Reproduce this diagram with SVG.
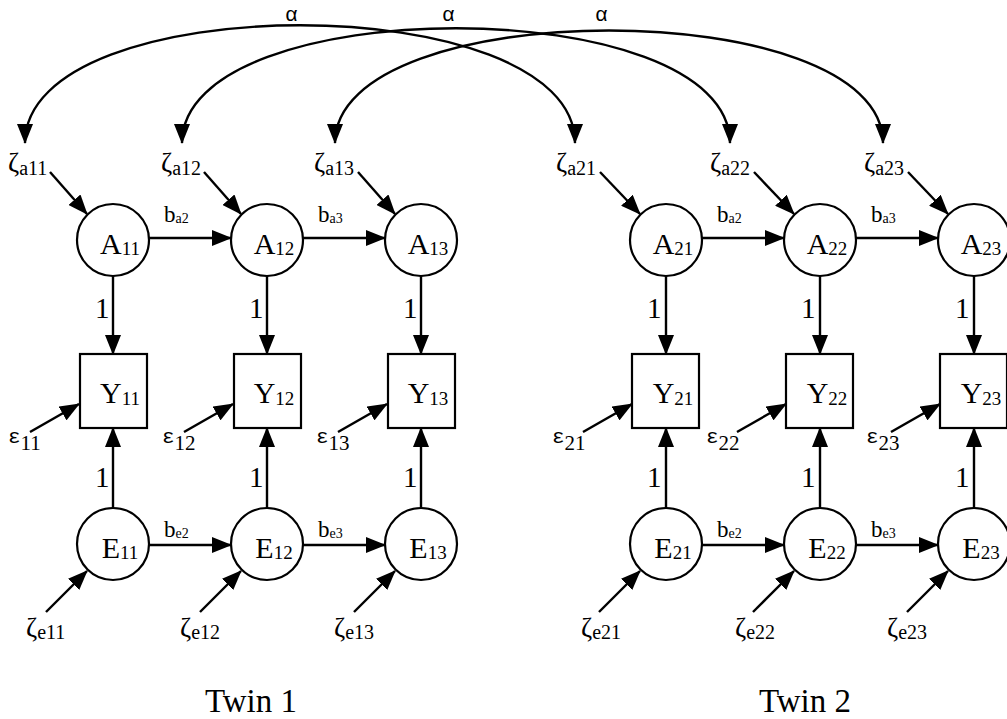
<svg xmlns="http://www.w3.org/2000/svg" width="1007" height="719" viewBox="0 0 1007 719">
<style>
.n{fill:#fff;stroke:#000;stroke-width:2.2}
.c{fill:none;stroke:#000;stroke-width:2.4}
.t{font-family:"Liberation Serif","Times New Roman",serif;fill:#000}
.big{font-size:30px}
.sub{font-size:19px}
.m{font-family:"Liberation Mono","Courier New",monospace;fill:#000}
.z{font-size:27px}
.zs{font-size:20px}
.one{font-size:29px}
.tw{font-size:33px}
.b{font-size:23px}
.bs{font-size:14px}
</style>
<defs>
<marker id="ah" markerWidth="20" markerHeight="16" refX="19" refY="8" orient="auto" markerUnits="userSpaceOnUse"><path d="M0,0 L20,8 L0,16 z" fill="#000"/></marker>
<marker id="ahs" markerWidth="20" markerHeight="16" refX="19" refY="8" orient="auto-start-reverse" markerUnits="userSpaceOnUse"><path d="M0,0 L20,8 L0,16 z" fill="#000"/></marker>
</defs>
<rect width="1007" height="719" fill="#fff"/>

<g id="connectors">
<path class="c" d="M25,143 C25,-14 575,-14 575,143" marker-start="url(#ahs)" marker-end="url(#ahs)"/>
<path class="c" d="M182,143 C182,-10 730,-10 730,143" marker-start="url(#ahs)" marker-end="url(#ahs)"/>
<path class="c" d="M335,143 C335,-7 883,-7 883,143" marker-start="url(#ahs)" marker-end="url(#ahs)"/>
<line class="c" x1="50" y1="172" x2="87" y2="214" marker-end="url(#ah)"/>
<line class="c" x1="204" y1="172" x2="241" y2="214" marker-end="url(#ah)"/>
<line class="c" x1="358" y1="172" x2="395" y2="214" marker-end="url(#ah)"/>
<line class="c" x1="149" y1="238" x2="231" y2="238" marker-end="url(#ah)"/>
<line class="c" x1="303" y1="238" x2="385" y2="238" marker-end="url(#ah)"/>
<line class="c" x1="113" y1="276" x2="113" y2="354" marker-end="url(#ah)"/>
<line class="c" x1="267" y1="276" x2="267" y2="354" marker-end="url(#ah)"/>
<line class="c" x1="421" y1="276" x2="421" y2="354" marker-end="url(#ah)"/>
<line class="c" x1="30" y1="432" x2="79" y2="404" marker-end="url(#ah)"/>
<line class="c" x1="184" y1="432" x2="233" y2="404" marker-end="url(#ah)"/>
<line class="c" x1="338" y1="432" x2="387" y2="404" marker-end="url(#ah)"/>
<line class="c" x1="113" y1="508" x2="113" y2="428" marker-end="url(#ah)"/>
<line class="c" x1="267" y1="508" x2="267" y2="428" marker-end="url(#ah)"/>
<line class="c" x1="421" y1="508" x2="421" y2="428" marker-end="url(#ah)"/>
<line class="c" x1="149" y1="545" x2="231" y2="545" marker-end="url(#ah)"/>
<line class="c" x1="303" y1="545" x2="385" y2="545" marker-end="url(#ah)"/>
<line class="c" x1="46" y1="612" x2="87" y2="571" marker-end="url(#ah)"/>
<line class="c" x1="200" y1="612" x2="241" y2="571" marker-end="url(#ah)"/>
<line class="c" x1="354" y1="612" x2="395" y2="571" marker-end="url(#ah)"/>
<line class="c" x1="600" y1="172" x2="640" y2="214" marker-end="url(#ah)"/>
<line class="c" x1="754" y1="172" x2="794" y2="214" marker-end="url(#ah)"/>
<line class="c" x1="908" y1="172" x2="948" y2="214" marker-end="url(#ah)"/>
<line class="c" x1="702" y1="238" x2="784" y2="238" marker-end="url(#ah)"/>
<line class="c" x1="856" y1="238" x2="938" y2="238" marker-end="url(#ah)"/>
<line class="c" x1="666" y1="276" x2="666" y2="354" marker-end="url(#ah)"/>
<line class="c" x1="820" y1="276" x2="820" y2="354" marker-end="url(#ah)"/>
<line class="c" x1="974" y1="276" x2="974" y2="354" marker-end="url(#ah)"/>
<line class="c" x1="583" y1="432" x2="632" y2="404" marker-end="url(#ah)"/>
<line class="c" x1="737" y1="432" x2="786" y2="404" marker-end="url(#ah)"/>
<line class="c" x1="891" y1="432" x2="940" y2="404" marker-end="url(#ah)"/>
<line class="c" x1="666" y1="508" x2="666" y2="428" marker-end="url(#ah)"/>
<line class="c" x1="820" y1="508" x2="820" y2="428" marker-end="url(#ah)"/>
<line class="c" x1="974" y1="508" x2="974" y2="428" marker-end="url(#ah)"/>
<line class="c" x1="702" y1="545" x2="784" y2="545" marker-end="url(#ah)"/>
<line class="c" x1="856" y1="545" x2="938" y2="545" marker-end="url(#ah)"/>
<line class="c" x1="599" y1="612" x2="640" y2="571" marker-end="url(#ah)"/>
<line class="c" x1="753" y1="612" x2="794" y2="571" marker-end="url(#ah)"/>
<line class="c" x1="907" y1="612" x2="948" y2="571" marker-end="url(#ah)"/>
</g>

<g id="labels">
<text class="m" x="285" y="21" font-size="21">α</text>
<text class="m" x="442" y="21" font-size="21">α</text>
<text class="m" x="595" y="21" font-size="21">α</text>
<text class="t b" x="164" y="222">b<tspan class="bs" dy="1">a2</tspan></text>
<text class="t b" x="318" y="222">b<tspan class="bs" dy="1">a3</tspan></text>
<text class="t b" x="164" y="537">b<tspan class="bs" dy="1">e2</tspan></text>
<text class="t b" x="318" y="537">b<tspan class="bs" dy="1">e3</tspan></text>
<text class="t b" x="717" y="222">b<tspan class="bs" dy="1">a2</tspan></text>
<text class="t b" x="871" y="222">b<tspan class="bs" dy="1">a3</tspan></text>
<text class="t b" x="717" y="537">b<tspan class="bs" dy="1">e2</tspan></text>
<text class="t b" x="871" y="537">b<tspan class="bs" dy="1">e3</tspan></text>
<text class="t one" x="95" y="318">1</text>
<text class="t one" x="249" y="318">1</text>
<text class="t one" x="403" y="318">1</text>
<text class="t one" x="95" y="487">1</text>
<text class="t one" x="249" y="487">1</text>
<text class="t one" x="403" y="487">1</text>
<text class="t one" x="647" y="318">1</text>
<text class="t one" x="801" y="318">1</text>
<text class="t one" x="955" y="318">1</text>
<text class="t one" x="647" y="487">1</text>
<text class="t one" x="801" y="487">1</text>
<text class="t one" x="955" y="487">1</text>
<text class="t z" x="8" y="172">ζ<tspan class="zs" dy="3">a11</tspan></text>
<text class="t z" x="161" y="172">ζ<tspan class="zs" dy="3">a12</tspan></text>
<text class="t z" x="314" y="172">ζ<tspan class="zs" dy="3">a13</tspan></text>
<text class="t z" x="556" y="172">ζ<tspan class="zs" dy="3">a21</tspan></text>
<text class="t z" x="710" y="172">ζ<tspan class="zs" dy="3">a22</tspan></text>
<text class="t z" x="864" y="172">ζ<tspan class="zs" dy="3">a23</tspan></text>
<text class="m" x="8" y="443" font-size="21">ε<tspan class="t" font-size="21" dy="7">11</tspan></text>
<text class="m" x="162" y="443" font-size="21">ε<tspan class="t" font-size="21" dy="7">12</tspan></text>
<text class="m" x="316" y="443" font-size="21">ε<tspan class="t" font-size="21" dy="7">13</tspan></text>
<text class="m" x="552" y="443" font-size="21">ε<tspan class="t" font-size="21" dy="7">21</tspan></text>
<text class="m" x="706" y="443" font-size="21">ε<tspan class="t" font-size="21" dy="7">22</tspan></text>
<text class="m" x="866" y="443" font-size="21">ε<tspan class="t" font-size="21" dy="7">23</tspan></text>
<text class="t z" x="26" y="637">ζ<tspan class="zs" dy="2">e11</tspan></text>
<text class="t z" x="180" y="637">ζ<tspan class="zs" dy="2">e12</tspan></text>
<text class="t z" x="334" y="637">ζ<tspan class="zs" dy="2">e13</tspan></text>
<text class="t z" x="581" y="637">ζ<tspan class="zs" dy="2">e21</tspan></text>
<text class="t z" x="735" y="637">ζ<tspan class="zs" dy="2">e22</tspan></text>
<text class="t z" x="887" y="637">ζ<tspan class="zs" dy="2">e23</tspan></text>
<text class="t tw" x="251" y="712" text-anchor="middle">Twin 1</text>
<text class="t tw" x="805" y="712" text-anchor="middle">Twin 2</text>
</g>

<g id="A11"><circle class="n" cx="113" cy="240" r="36"/><text class="t big" x="120" y="254" text-anchor="middle">A<tspan class="sub" dy="1">11</tspan></text></g>
<g id="A12"><circle class="n" cx="267" cy="240" r="36"/><text class="t big" x="274" y="254" text-anchor="middle">A<tspan class="sub" dy="1">12</tspan></text></g>
<g id="A13"><circle class="n" cx="421" cy="240" r="36"/><text class="t big" x="428" y="254" text-anchor="middle">A<tspan class="sub" dy="1">13</tspan></text></g>
<g id="Y11"><rect class="n" x="80" y="354" width="67" height="74"/><text class="t big" x="120" y="403" text-anchor="middle">Y<tspan class="sub" dy="2">11</tspan></text></g>
<g id="Y12"><rect class="n" x="234" y="354" width="67" height="74"/><text class="t big" x="274" y="403" text-anchor="middle">Y<tspan class="sub" dy="2">12</tspan></text></g>
<g id="Y13"><rect class="n" x="388" y="354" width="67" height="74"/><text class="t big" x="428" y="403" text-anchor="middle">Y<tspan class="sub" dy="2">13</tspan></text></g>
<g id="E11"><circle class="n" cx="113" cy="544" r="36"/><text class="t big" x="120" y="558" text-anchor="middle">E<tspan class="sub" dy="1">11</tspan></text></g>
<g id="E12"><circle class="n" cx="267" cy="544" r="36"/><text class="t big" x="274" y="558" text-anchor="middle">E<tspan class="sub" dy="1">12</tspan></text></g>
<g id="E13"><circle class="n" cx="421" cy="544" r="36"/><text class="t big" x="428" y="558" text-anchor="middle">E<tspan class="sub" dy="1">13</tspan></text></g>

<g id="A21"><circle class="n" cx="666" cy="240" r="36"/><text class="t big" x="673" y="254" text-anchor="middle">A<tspan class="sub" dy="1">21</tspan></text></g>
<g id="A22"><circle class="n" cx="820" cy="240" r="36"/><text class="t big" x="827" y="254" text-anchor="middle">A<tspan class="sub" dy="1">22</tspan></text></g>
<g id="A23"><circle class="n" cx="974" cy="240" r="36"/><text class="t big" x="981" y="254" text-anchor="middle">A<tspan class="sub" dy="1">23</tspan></text></g>
<g id="Y21"><rect class="n" x="632" y="354" width="67" height="74"/><text class="t big" x="673" y="403" text-anchor="middle">Y<tspan class="sub" dy="2">21</tspan></text></g>
<g id="Y22"><rect class="n" x="786" y="354" width="67" height="74"/><text class="t big" x="827" y="403" text-anchor="middle">Y<tspan class="sub" dy="2">22</tspan></text></g>
<g id="Y23"><rect class="n" x="940" y="354" width="67" height="74"/><text class="t big" x="981" y="403" text-anchor="middle">Y<tspan class="sub" dy="2">23</tspan></text></g>
<g id="E21"><circle class="n" cx="666" cy="544" r="36"/><text class="t big" x="673" y="558" text-anchor="middle">E<tspan class="sub" dy="1">21</tspan></text></g>
<g id="E22"><circle class="n" cx="820" cy="544" r="36"/><text class="t big" x="827" y="558" text-anchor="middle">E<tspan class="sub" dy="1">22</tspan></text></g>
<g id="E23"><circle class="n" cx="974" cy="544" r="36"/><text class="t big" x="981" y="558" text-anchor="middle">E<tspan class="sub" dy="1">23</tspan></text></g>
</svg>
